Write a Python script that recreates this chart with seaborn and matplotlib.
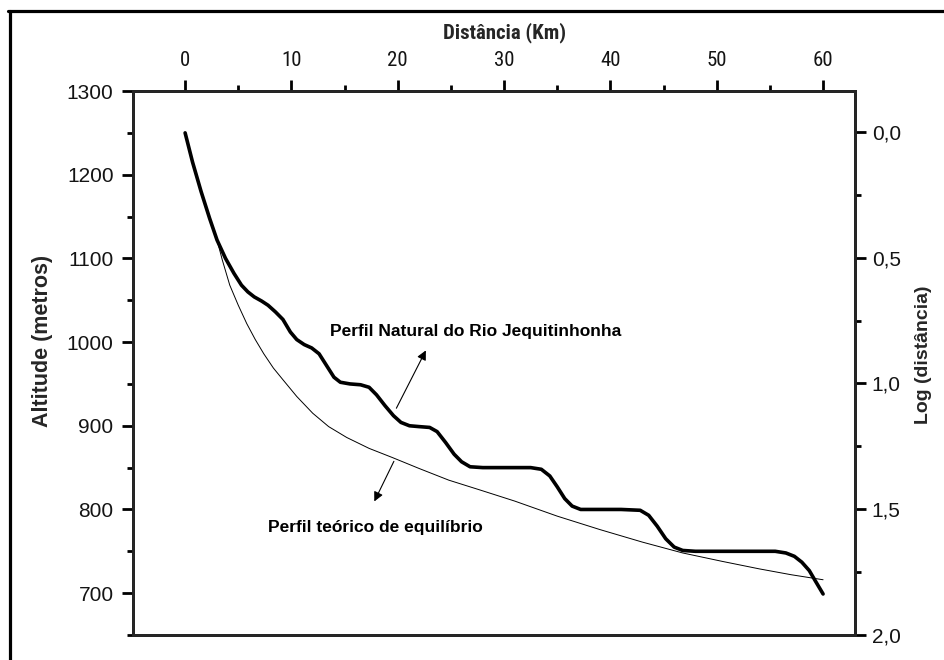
import matplotlib
matplotlib.use("Agg")
import matplotlib.pyplot as plt
from matplotlib.lines import Line2D
from matplotlib.ticker import MultipleLocator, FuncFormatter
from matplotlib import font_manager
import seaborn as sns

# perfil natural do rio (distância km, altitude m)
dist_natural = [0.0, 0.7, 1.5, 2.3, 3.0, 3.8, 4.6, 5.3, 5.9, 6.5, 7.2, 7.8, 8.5, 9.2,
                9.9, 10.5, 11.2, 11.9, 12.6, 13.3, 14.0, 14.6, 15.5, 16.5, 17.3, 18.0,
                18.8, 19.6, 20.3, 21.1, 22.0, 23.0, 23.7, 24.5, 25.3, 26.0, 26.8, 28.0,
                30.0, 32.5, 33.5, 34.3, 35.0, 35.7, 36.4, 37.2, 39.0, 41.0, 42.8, 43.6,
                44.4, 45.2, 46.0, 46.8, 48.0, 52.0, 55.5, 56.5, 57.3, 58.0, 58.7, 59.3, 60.0]
alt_natural = [1250, 1215, 1180, 1148, 1122, 1100, 1082, 1068, 1060, 1054, 1049, 1044, 1036, 1027,
               1012, 1003, 997, 993, 986, 972, 958, 952, 950, 949, 946, 937,
               924, 912, 904, 900, 899, 898, 893, 880, 866, 857, 851, 850,
               850, 850, 848, 840, 827, 813, 804, 800, 800, 800, 799, 793,
               780, 765, 755, 751, 750, 750, 750, 748, 744, 737, 727, 714, 699]

# perfil teórico de equilíbrio
dist_teorico = [3.0, 3.5, 4.2, 5.0, 5.8, 6.6, 7.4, 8.3, 9.2, 10.5, 12.0, 13.5, 15.2, 17.3,
                19.5, 22.0, 24.8, 27.8, 31.0, 35.0, 39.0, 43.0, 46.8, 50.5, 54.0, 57.0, 60.0]
alt_teorico = [1122, 1098, 1068, 1044, 1022, 1003, 986, 969, 955, 935, 915, 899, 886, 873,
               862, 849, 835, 823, 810, 792, 776, 761, 748, 738, 729, 722, 716]

x_ticks = [0, 10, 20, 30, 40, 50, 60]
y_ticks = [700, 800, 900, 1000, 1100, 1200, 1300]
log_ticks = [0.0, 0.5, 1.0, 1.5, 2.0]

sns.set_theme(style="white")
plt.rcParams['font.family'] = ['Liberation Sans', 'DejaVu Sans']

# fonte estreita, se houver
installed = {f.name for f in font_manager.fontManager.ttflist}
narrow = [n for n in ['Liberation Sans Narrow', 'Roboto Condensed', 'DejaVu Sans Condensed']
          if n in installed] + ['Liberation Sans', 'DejaVu Sans']
ink = '#141414'

fig = plt.figure(figsize=(9.44, 6.6), dpi=100)
ax = fig.add_axes([0.1409, 0.0379, 0.7648, 0.8242])

sns.lineplot(x=dist_teorico, y=alt_teorico, ax=ax, color='black', linewidth=0.7,
             sort=False, estimator=None)
sns.lineplot(x=dist_natural, y=alt_natural, ax=ax, color='black', linewidth=2.6,
             sort=False, estimator=None)

ax.set_xlim(-4.9, 63.0)
ax.set_ylim(650, 1300)

for s in ax.spines.values():
    s.set_linewidth(2.0)
    s.set_color('black')

ax.xaxis.tick_top()
ax.xaxis.set_label_position('top')
ax.set_xticks(x_ticks)
ax.xaxis.set_minor_locator(MultipleLocator(5))
ax.set_yticks(y_ticks)
ax.yaxis.set_minor_locator(MultipleLocator(50))
ax.tick_params(axis='both', which='major', direction='out', length=8, width=2,
               colors='black', labelcolor=ink, labelsize=15)
ax.tick_params(axis='both', which='minor', direction='out', length=4, width=2, colors='black')
ax.tick_params(axis='x', pad=7)
ax.tick_params(axis='y', pad=6)
for lab in ax.get_xticklabels():
    lab.set_family(narrow)
    lab.set_fontstretch('condensed')

ax.set_xlabel('Distância (Km)', family=narrow, fontstretch='condensed', fontweight='bold',
              fontsize=15, ha='center', va='center')
ax.xaxis.set_label_coords(0.515, 1.108)
ax.set_ylabel('Altitude (metros)', fontweight='bold', fontsize=15.5,
              ha='center', va='center')
ax.yaxis.set_label_coords(-0.125, 0.54)

ax2 = ax.twinx()
ax2.set_ylim(2.0, -0.163)
ax2.set_yticks(log_ticks)
ax2.yaxis.set_minor_locator(MultipleLocator(0.25))
ax2.yaxis.set_major_formatter(FuncFormatter(lambda v, p: f'{v:.1f}'.replace('.', ',')))
ax2.tick_params(axis='y', which='major', direction='out', length=8, width=2,
                colors='black', labelcolor=ink, labelsize=15, pad=4)
ax2.tick_params(axis='y', which='minor', direction='out', length=4, width=2, colors='black')
for s in ax2.spines.values():
    s.set_linewidth(2.0)
ax2.set_ylabel('Log (distância)', fontweight='bold', fontsize=14, ha='center', va='center')
ax2.yaxis.set_label_coords(1.095, 0.515)

# anotações
ax.text(13.64, 1012.6, 'Perfil Natural do Rio Jequitinhonha', fontsize=12.5,
        fontweight='bold', ha='left', va='center', color='black')
ax.annotate('', xy=(22.76, 993), xytext=(19.75, 918),
            arrowprops=dict(arrowstyle='-|>', lw=0.8, color='black', mutation_scale=14))
ax.text(7.8, 778, 'Perfil teórico de equilíbrio', fontsize=12.5,
        fontweight='bold', ha='left', va='center', color='black')
ax.annotate('', xy=(17.68, 806.6), xytext=(19.75, 860.5),
            arrowprops=dict(arrowstyle='-|>', lw=0.8, color='black', mutation_scale=14))

# moldura externa
fig.add_artist(Line2D([0.0101, 0.0101], [0.0, 0.9826], transform=fig.transFigure,
                      color='black', linewidth=2.3))
fig.add_artist(Line2D([0.0085, 1.0], [0.9826, 0.9826], transform=fig.transFigure,
                      color='black', linewidth=2.3))

fig.savefig('out.png', dpi=100)
